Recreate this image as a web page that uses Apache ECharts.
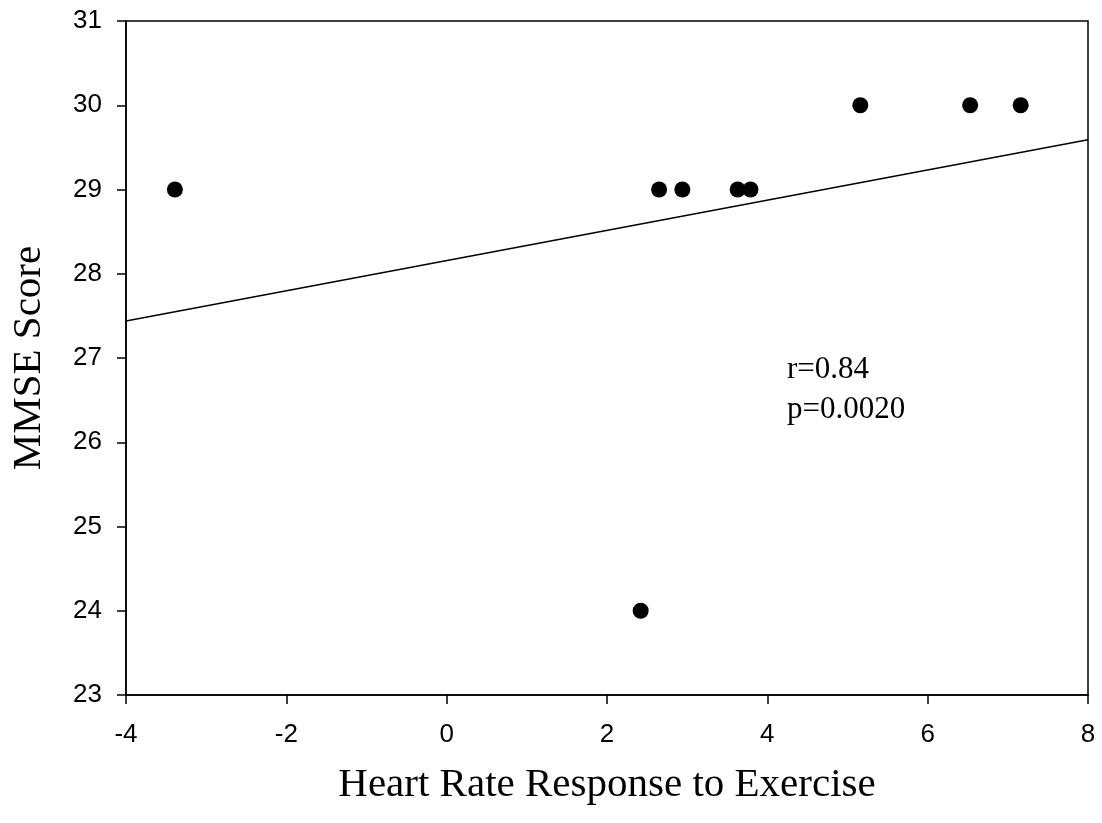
<!DOCTYPE html>
<html>
<head>
<meta charset="utf-8">
<script src="https://cdn.jsdelivr.net/npm/echarts@6/dist/echarts.min.js"></script>
<style>
  html, body { margin: 0; padding: 0; background: #fff; }
  #chart { width: 1102px; height: 823px; }
</style>
</head>
<body>
<div id="chart"></div>
<script>
// Heart rate response to exercise vs. MMSE score
const hrResponse = [-3.39, 2.42, 2.65, 2.94, 3.63, 3.79, 5.16, 6.53, 7.16];
const mmseScore  = [29, 24, 29, 29, 29, 29, 30, 30, 30];

// Fitted regression line, endpoints at the x-axis limits
const fitX = [-4, 8];
const fitY = [27.44, 29.59];

const xTicks = [-4, -2, 0, 2, 4, 6, 8];
const yTicks = [23, 24, 25, 26, 27, 28, 29, 30, 31];

const statsText = ['r=0.84', 'p=0.0020'];

const points = hrResponse.map((x, i) => [x, mmseScore[i]]);
const fitLine = fitX.map((x, i) => [x, fitY[i]]);

const chart = echarts.init(document.getElementById('chart'), null, { renderer: 'canvas' });

const axisText = { color: '#000', fontFamily: 'Liberation Sans', fontSize: 26 };
const titleText = { color: '#000', fontFamily: 'Liberation Serif', fontSize: 41 };
const axisLineStyle = { color: '#000', width: 1.5 };

chart.setOption({
  backgroundColor: '#fff',
  animation: false,
  grid: {
    left: 126, right: 14, top: 21, bottom: 128,
    show: true, borderColor: '#000', borderWidth: 1.5, backgroundColor: 'transparent'
  },
  xAxis: {
    type: 'value',
    min: xTicks[0], max: xTicks[xTicks.length - 1], interval: 2,
    name: 'Heart Rate Response to Exercise',
    nameLocation: 'middle', nameGap: 70, nameTextStyle: titleText,
    axisLine: { show: true, onZero: false, lineStyle: axisLineStyle },
    axisTick: { show: true, inside: false, length: 9, lineStyle: axisLineStyle },
    axisLabel: Object.assign({ margin: 27 }, axisText),
    splitLine: { show: false }
  },
  yAxis: {
    type: 'value',
    min: yTicks[0], max: yTicks[yTicks.length - 1], interval: 1,
    name: 'MMSE Score',
    nameLocation: 'middle', nameGap: 76, nameTextStyle: titleText,
    axisLine: { show: true, onZero: false, lineStyle: axisLineStyle },
    axisTick: { show: true, inside: false, length: 9, lineStyle: axisLineStyle },
    axisLabel: Object.assign({ margin: 24 }, axisText),
    splitLine: { show: false }
  },
  series: [
    {
      type: 'line',
      data: fitLine,
      symbol: 'none',
      lineStyle: { color: '#000', width: 1.5 },
      z: 2
    },
    {
      type: 'scatter',
      data: points,
      symbol: 'circle',
      symbolSize: 16,
      itemStyle: { color: '#000', opacity: 1 },
      z: 3
    }
  ],
  graphic: [
    {
      type: 'text',
      x: 787,
      y: 350,
      style: {
        x: 0,
        y: 0,
        text: statsText.join('\n'),
        fill: '#000',
        font: '31px "Liberation Serif"',
        lineHeight: 40,
        verticalAlign: 'top'
      }
    }
  ]
});
</script>
</body>
</html>
